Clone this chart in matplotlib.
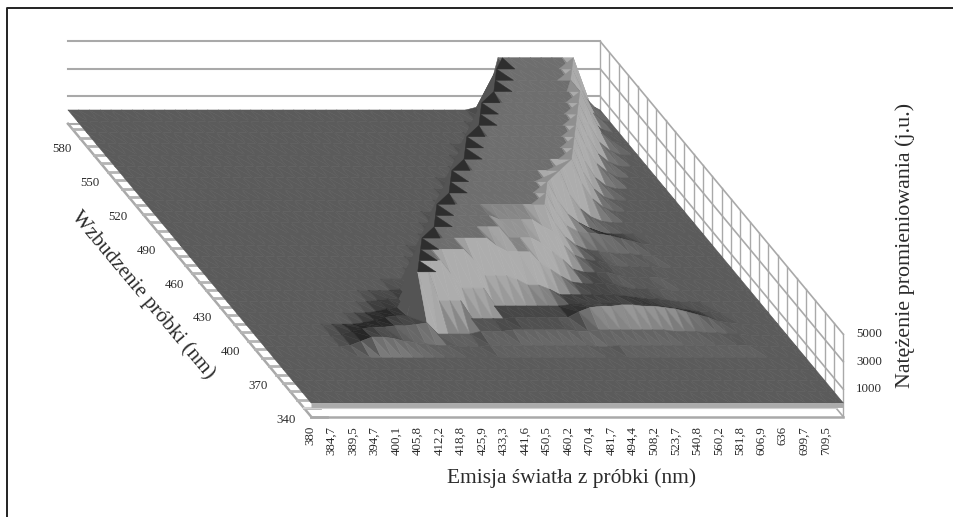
import numpy as np
import matplotlib
matplotlib.use("Agg")
import matplotlib.pyplot as plt
from matplotlib.collections import PolyCollection
from matplotlib.colors import LinearSegmentedColormap, Normalize

plt.rcParams['font.family'] = ['Liberation Serif', 'DejaVu Serif']

# tick labels
emission_labels = ["380", "384,7", "389,5", "394,7", "400,1", "405,8", "412,2", "418,8", "425,9",
                   "433,3", "441,6", "450,5", "460,2", "470,4", "481,7", "494,4", "508,2", "523,7",
                   "540,8", "560,2", "581,8", "606,9", "636", "699,7", "709,5"]
excitation_ticks = [340, 370, 400, 430, 460, 490, 520, 550, 580]
intensity_ticks = [1000, 3000, 5000]

# intensity in hundreds of j.u., rows go from excitation 600 nm (back) to 340 nm (front),
# columns are half an emission label wide, zeros at the end of a row are left out
rows = [
    [0]*38 + [2, 8] + [38]*8 + [10, 2],
    [0]*38 + [1] + [38]*8 + [22, 6],
    [0]*37 + [1] + [38]*8 + [22, 8, 2],
    [0]*36 + [1] + [38]*9 + [22, 8, 2],
    [0]*34 + [1] + [38]*10 + [22, 9, 3],
    [0]*33 + [1] + [38]*10 + [22, 9, 3],
    [0]*32 + [1] + [38]*10 + [22, 10, 4],
    [0]*30 + [1] + [38]*11 + [20, 8, 2],
    [0]*29 + [1] + [38]*11 + [20, 8, 2],
    [0]*28 + [1] + [38]*11 + [20, 9, 3],
    [0]*26 + [1] + [38]*11 + [20, 10, 4, 1],
    [0]*25 + [1] + [38]*10 + [24, 14, 8, 4, 1],
    [0]*24 + [1] + [38]*10 + [24, 14, 10, 9, 8, 7, 5, 3, 1],
    [0]*22 + [1] + [38]*11 + [24, 14, 8, 5, 4, 3, 2, 2, 1, 1],
    [0]*21 + [1] + [38]*6 + [35]*4 + [30, 26, 16, 9, 6, 5, 3, 1, 1, 1, 1],
    [0]*20 + [1] + [38]*7 + [30]*3 + [26, 20, 14, 7, 5, 5, 5, 3, 1, 1, 1, 1],
    [0]*17 + [1, 1] + [38]*7 + [32, 28, 28, 28, 20, 15, 10, 6, 5, 5, 5, 4, 2, 1, 1, 1],
    [0]*14 + [1, 2, 2, 3] + [38]*5 + [30, 19, 19, 19, 16, 12, 12, 9, 5, 5, 5, 5, 5, 5, 4, 3, 2, 2, 1],
    [0]*13 + [1, 3, 4, 4] + [38]*3 + [28, 18, 18, 18, 5, 5, 5, 5, 5, 5, 5, 6, 7, 7, 7, 7, 6, 6, 6, 5, 4, 3, 2, 1, 1],
    [0]*11 + [1, 3, 5, 6, 6] + [38, 38, 17, 17, 17, 4, 4, 4, 4, 5, 5, 5, 5, 5, 5] + [9, 12, 13, 13, 14, 14, 13, 13, 12, 11, 9, 7, 5, 2, 1],
    [0]*8 + [1, 3, 5, 6, 6, 7, 7, 8, 9] + [1, 1, 1, 1] + [3, 3, 3, 4, 4, 4, 4, 4, 4, 3] + [3, 4, 4, 4, 4, 4, 4, 4, 3, 3, 3, 2, 2, 1, 1],
    [0]*8 + [1, 4, 7, 7, 6, 4, 3, 2, 1, 1] + [0]*3 + [1]*10 + [0]*2 + [1]*13,
    [0],
    [0],
    [0],
    [0],
    [0],
]

# left edge of the flat top, half emission labels, one value per row from the back
edge_cols = [40.4, 39, 38, 37, 35, 34, 33, 31, 30, 29, 27, 26, 25, 23, 22, 21, 19, 18, 17, 16]
# right edge of the flat top
edge_right = [47, 46, 45, 45, 44, 43, 42, 41, 40, 39, 37, 35, 34, 33]

n_cols = 51
Z = np.zeros((len(rows), n_cols))
for k, row in enumerate(rows):
    Z[k, :len(row)] = row
col_pos = np.append(np.arange(n_cols - 1), 49.5)


def project(col, ex, z):
    # oblique view of the box, result in figure pixels
    depth = (600 - ex) / 10.0 * 11.27
    x = 68 + col * 10.75 + depth * 0.83
    y = 110 + depth - z * 0.01375
    return x, y


fig = plt.figure(figsize=(9.54, 5.17), dpi=100)
ax = fig.add_axes([0, 0, 1, 1])
ax.set_xlim(0, 954)
ax.set_ylim(517, 0)
ax.axis('off')

ax.plot([7, 7, 954], [517, 8, 8], color='#222222', lw=1.4)

wall = '#a9a9a9'
# back and right walls
for z in [5000, 3000, 1000, -1000]:
    x0, y0 = project(0, 600, z)
    x1, y1 = project(49.5, 600, z)
    x2, y2 = project(49.5, 340, z)
    ax.plot([x0, x1], [y0, y1], color=wall, lw=1.5, zorder=1)
    ax.plot([x1, x2], [y1, y2], color=wall, lw=1.2, zorder=1)
for ex in np.arange(340, 601, 10):
    xa, ya = project(49.5, ex, 5000)
    xb, yb = project(49.5, ex, -1000)
    ax.plot([xa, xb], [ya, yb], color=wall, lw=1.0, zorder=1)

# floor edge and its grid
xa, ya = project(0, 600, -1000)
xb, yb = project(0, 340, -1000)
ax.plot([xa, xb], [ya, yb], color=wall, lw=1.8, zorder=1)
for ex in np.arange(340, 601, 7.5):
    xa, ya = project(0, ex, -1000)
    ax.plot([xa, xa + 16], [ya, ya], color='#b4b4b4', lw=2.0, zorder=1)
xa, ya = project(0, 340, -1000)
xb, yb = project(49.5, 340, -1000)
ax.plot([xa, xb], [ya, yb], color=wall, lw=1.8, zorder=1)
xa, ya = project(0, 347.5, -1000)
xb, yb = project(49.5, 347.5, -1000)
ax.plot([xa, xb], [ya, yb], color='#cfcfcf', lw=1.5, zorder=1)

# surface, painted from the back row to the front row
level = LinearSegmentedColormap.from_list('level', [
    (0.0, '#5b5b5b'), (2 / 38, '#545454'), (5 / 38, '#474747'), (8 / 38, '#606060'),
    (14 / 38, '#727272'), (25 / 38, '#787878'), (36 / 38, '#747474'), (1.0, '#6e6e6e')])
norm = Normalize(0, 38)


def shade(mean_z, front, side):
    v = level(norm(mean_z))[0]
    if front < -8 or side > 8:
        # steep rise seen from behind or from the side, about as dark as the ground
        return 0.33
    v = v + 0.22 * np.tanh(front / 8.0)
    v = v - (0.30 if side > 0 else 0.06) * np.tanh(side / 8.0)
    return np.clip(v, 0.05, 0.68)


verts = []
colors = []
ex_rows = 600 - 10 * np.arange(len(rows))
for r in range(len(rows) - 1):
    for i in range(n_cols - 1):
        a = (col_pos[i], ex_rows[r], Z[r, i])
        b = (col_pos[i + 1], ex_rows[r], Z[r, i + 1])
        c = (col_pos[i + 1], ex_rows[r + 1], Z[r + 1, i + 1])
        d = (col_pos[i], ex_rows[r + 1], Z[r + 1, i])
        for tri, front, side in [((a, b, c), b[2] - c[2], b[2] - a[2]),
                                 ((a, c, d), a[2] - d[2], c[2] - d[2])]:
            verts.append([project(p[0], p[1], p[2] * 100) for p in tri])
            g = shade(np.mean([p[2] for p in tri]), front, side)
            colors.append((g, g, g))
ax.add_collection(PolyCollection(verts, facecolors=colors, edgecolors=colors, linewidths=0.4, zorder=2))

# saw teeth along both edges of the flat top
teeth = []
for r in range(len(edge_cols) - 1):
    ex0, ex1 = ex_rows[r], ex_rows[r + 1]
    teeth.append([project(edge_cols[r], ex0, 3800), project(edge_cols[r + 1], ex1, 3800),
                  project(edge_cols[r + 1] + 1.7, ex1, 3800)])
ax.add_collection(PolyCollection(teeth, facecolors='#2e2e2e', edgecolors='#2e2e2e', linewidths=0.3, zorder=3))
teeth = []
for r in range(len(edge_right) - 1):
    ex0, ex1 = ex_rows[r], ex_rows[r + 1]
    teeth.append([project(edge_right[r], ex0, 3800), project(edge_right[r + 1], ex1, 3800),
                  project(edge_right[r + 1] - 1.2, ex1, 3800)])
ax.add_collection(PolyCollection(teeth, facecolors='#8f8f8f', edgecolors='#8f8f8f', linewidths=0.3, zorder=3))

# front skirt of the surface
xa, ya = project(0, 340, 0)
xb, yb = project(49.5, 340, 0)
ax.plot([xa, xb], [ya + 2, yb + 2], color='#ababab', lw=3.5, zorder=3, solid_capstyle='butt')

# tick labels
txt = '#2b2b2b'
for k, lab in enumerate(emission_labels):
    ax.text(310 + 21.5 * k, 426, lab, rotation=90, ha='center', va='top', fontsize=9.3, color=txt)
for ex in excitation_ticks:
    x, y = project(0, ex, -1000)
    ax.text(x - 15, y + 3, str(ex), ha='right', va='center', fontsize=9.3, color=txt)
for z in intensity_ticks:
    x, y = project(49.5, 340, z)
    ax.text(x + 13, y, str(z), ha='left', va='center', fontsize=9.3, color=txt)

ax.text(572, 478, "Emisja światła z próbki (nm)", ha='center', va='center', fontsize=15.4, color=txt)
ax.text(143, 295, "Wzbudzenie próbki (nm)", rotation=-50, ha='center', va='center', fontsize=15.2, color=txt)
ax.text(905, 245, "Natężenie promieniowania (j.u.)", rotation=90, ha='center', va='center', fontsize=15.8, color=txt)

fig.savefig('out.png', dpi=100)
